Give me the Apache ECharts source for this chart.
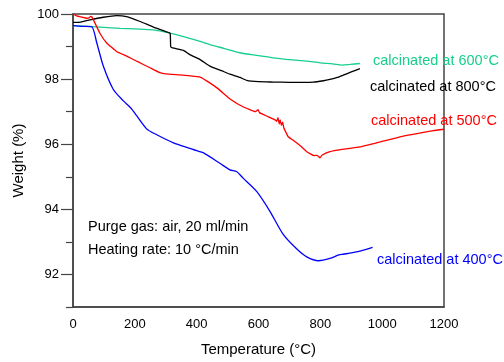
<!DOCTYPE html>
<html lang="en">
  <head>
    <meta charset="utf-8">
    <title>TGA</title>
    <style>
      html, body { margin: 0; padding: 0; background: #fff; }
      #chart { width: 504px; height: 362px; }
    </style>
  </head>
  <body>
    <div id="chart"></div>
    <script src="https://cdn.jsdelivr.net/npm/echarts@6/dist/echarts.min.js"></script>
    <script>
      // temperature (°C) / weight (%) per sample
      var t400 = [0, 30, 60, 77, 98, 130, 163, 190, 238, 271, 325, 378, 400, 421, 476, 508, 529, 551, 594, 637, 680, 724, 756, 794, 831, 860, 874, 917, 969];
      var w400 = [99.64, 99.62, 99.61, 99.11, 98.4, 97.69, 97.33, 97.08, 96.47, 96.29, 96.04, 95.87, 95.8, 95.74, 95.41, 95.21, 95.16, 94.95, 94.55, 93.94, 93.23, 92.78, 92.54, 92.42, 92.49, 92.6, 92.62, 92.69, 92.83];

      var t500 = [0, 12, 30, 44, 52, 57, 62, 66, 87, 109, 141, 175, 206, 249, 281, 300, 346, 380, 411, 440, 470, 508, 550, 590, 599, 603, 630, 655, 659, 663, 667, 670, 674, 678, 682, 688, 696, 712, 735, 756, 780, 790, 799, 805, 831, 870, 928, 993, 1040, 1079, 1120, 1165, 1200];
      var w500 = [100.0, 99.94, 99.9, 99.87, 99.88, 99.93, 99.9, 99.82, 99.41, 99.11, 98.85, 98.7, 98.55, 98.35, 98.2, 98.16, 98.13, 98.1, 98.06, 97.9, 97.7, 97.39, 97.15, 97.0, 97.06, 96.97, 96.85, 96.74, 96.7, 96.82, 96.62, 96.75, 96.58, 96.68, 96.5, 96.38, 96.23, 96.12, 95.95, 95.77, 95.65, 95.66, 95.58, 95.66, 95.77, 95.84, 95.92, 96.07, 96.18, 96.27, 96.34, 96.42, 96.46];

      var t600 = [0, 50, 100, 152, 200, 260, 314, 360, 411, 443, 490, 540, 600, 648, 700, 756, 800, 840, 870, 896, 928];
      var w600 = [99.64, 99.62, 99.59, 99.56, 99.54, 99.51, 99.41, 99.3, 99.16, 99.06, 98.94, 98.81, 98.72, 98.65, 98.6, 98.55, 98.5, 98.47, 98.43, 98.45, 98.48];

      var t800 = [0, 25, 55, 98, 141, 173, 217, 260, 300, 314, 316, 322, 357, 378, 411, 443, 480, 508, 540, 562, 600, 648, 700, 777, 810, 831, 855, 874, 900, 928];
      var w800 = [99.74, 99.75, 99.82, 99.9, 99.95, 99.92, 99.77, 99.6, 99.46, 99.41, 99.0, 98.96, 98.88, 98.75, 98.6, 98.4, 98.26, 98.15, 98.05, 97.96, 97.92, 97.91, 97.9, 97.91, 97.95, 97.99, 98.05, 98.12, 98.22, 98.32];

      // axis ticks
      var xTicks = [0, 200, 400, 600, 800, 1000, 1200];
      var yMajor = [92, 94, 96, 98, 100];
      var yMinor = [91, 93, 95, 97, 99];

      var font = "'Liberation Sans', Arial, sans-serif";

      function pairs(t, w) {
          return t.map(function (x, i) { return [x, w[i]]; });
      }

      function line(name, t, w, color, smooth) {
          return {
              name: name,
              type: 'line',
              data: pairs(t, w),
              showSymbol: false,
              smooth: smooth,
              animation: false,
              lineStyle: { color: color, width: 1.3 },
              z: 3
          };
      }

      function note(text, x, y, color) {
          return {
              type: 'text',
              x: x,
              y: y,
              style: { text: text, fill: color, font: '14.5px ' + font, verticalAlign: 'middle' },
              z: 10
          };
      }

      var chart = echarts.init(document.getElementById('chart'));
      chart.setOption({
          backgroundColor: '#fff',
          animation: false,
          grid: { left: 73, right: 60, top: 14, bottom: 52, show: true, borderColor: '#444', borderWidth: 1.5 },
          xAxis: {
              type: 'value',
              min: 0,
              max: 1200,
              name: 'Temperature (°C)',
              nameLocation: 'middle',
              nameGap: 35,
              nameTextStyle: { fontFamily: font, fontSize: 15, color: '#000' },
              axisLine: { show: true, lineStyle: { color: '#444', width: 1.5 } },
              axisTick: { show: false },
              splitLine: { show: false },
              axisLabel: {
                  customValues: xTicks,
                  formatter: function (v) { return String(v); },
                  fontFamily: font, fontSize: 13, color: '#000', margin: 11
              }
          },
          yAxis: [{
              type: 'value',
              min: 91,
              max: 100,
              name: 'Weight (%)',
              nameLocation: 'middle',
              nameGap: 42,
              nameTextStyle: { fontFamily: font, fontSize: 15, color: '#000' },
              axisLine: { show: true, lineStyle: { color: '#444', width: 1.5 } },
              axisTick: { show: true, customValues: yMajor, length: 12, lineStyle: { color: '#444', width: 1.2 } },
              splitLine: { show: false },
              axisLabel: { customValues: yMajor, fontFamily: font, fontSize: 13, color: '#000', margin: 14 }
          }, {
              type: 'value',
              min: 91,
              max: 100,
              position: 'left',
              axisLine: { show: false },
              axisTick: { show: true, customValues: yMinor, length: 7, lineStyle: { color: '#444', width: 1.2 } },
              axisLabel: { show: false },
              splitLine: { show: false }
          }],
          series: [
              line('calcinated at 600°C', t600, w600, '#17cf8c', 0.25),
              line('calcinated at 800°C', t800, w800, '#000000', 0.15),
              line('calcinated at 500°C', t500, w500, '#ff0000', 0.1),
              line('calcinated at 400°C', t400, w400, '#0000ff', 0.25)
          ],
          graphic: [
              note('calcinated at 600°C', 373, 61, '#17cf8c'),
              note('calcinated at 800°C', 370, 87, '#000000'),
              note('calcinated at 500°C', 371, 121, '#ff0000'),
              note('calcinated at 400°C', 377, 260, '#0000ff'),
              note('Purge gas: air, 20 ml/min', 88, 227, '#000000'),
              note('Heating rate: 10 °C/min', 88, 250, '#000000')
          ]
      });
    </script>
  </body>
</html>
